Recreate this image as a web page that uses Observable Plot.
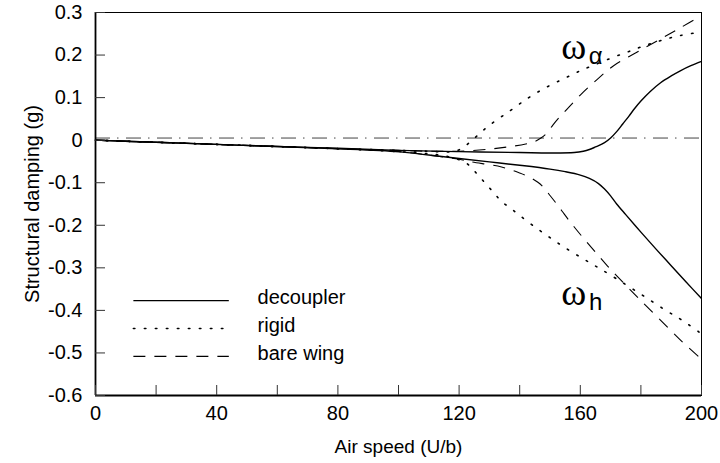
<!DOCTYPE html>
<html>
<head>
<meta charset="utf-8">
<script src="https://cdn.jsdelivr.net/npm/d3@7"></script>
<script src="https://cdn.jsdelivr.net/npm/@observablehq/plot@0.6"></script>
<style>
  body { margin: 0; background: #fff; }
  #chart svg { display: block; }
</style>
</head>
<body>
<div id="chart"></div>
<script>
// ---- tick values / labels ----
const xDomain = [0, 200];
const yDomain = [-0.6, 0.3];
const xMinorTicks = [0, 20, 40, 60, 80, 100, 120, 140, 160, 180, 200];
const xLabelTicks = [0, 40, 80, 120, 160, 200];
const yTicks = [-0.6, -0.5, -0.4, -0.3, -0.2, -0.1, 0, 0.1, 0.2, 0.3];
const xTitle = "Air speed (U/b)";
const yTitle = "Structural damping (g)";
const referenceLevel = 0.005;

// ---- series ----
const seriesNames = ["decoupler", "rigid", "bare wing"];

// decoupler
const decouplerAlphaX = [0, 20, 40, 60, 80, 100, 120, 140, 150, 158, 161, 163, 165, 168, 170, 172, 174, 176, 178, 180, 183, 186.5, 190, 193, 196.5, 200];
const decouplerAlphaY = [0, -0.005, -0.010, -0.015, -0.019, -0.024, -0.027, -0.029, -0.030, -0.029, -0.026, -0.022, -0.016, -0.006, 0.005, 0.020, 0.038, 0.056, 0.075, 0.092, 0.114, 0.135, 0.151, 0.163, 0.175, 0.185];
const decouplerHX = [0, 20, 40, 60, 80, 100, 110, 120, 130, 140, 150, 155, 160, 163, 166, 168, 170, 172, 175, 180, 185, 190, 195, 200];
const decouplerHY = [0, -0.005, -0.010, -0.015, -0.020, -0.027, -0.035, -0.043, -0.051, -0.059, -0.068, -0.074, -0.082, -0.090, -0.102, -0.115, -0.131, -0.150, -0.175, -0.216, -0.256, -0.295, -0.334, -0.372];

// rigid
const rigidAlphaX = [0, 20, 40, 60, 80, 100, 110, 118, 121, 124, 127, 130, 137, 143, 149, 155, 160, 165, 171, 177, 182, 188, 193, 200];
const rigidAlphaY = [0, -0.005, -0.010, -0.015, -0.020, -0.024, -0.026, -0.027, -0.019, -0.002, 0.017, 0.035, 0.070, 0.100, 0.125, 0.146, 0.163, 0.178, 0.195, 0.211, 0.224, 0.237, 0.246, 0.254];
const rigidHX = [0, 20, 40, 60, 80, 100, 110, 116, 120, 122, 124, 126, 128, 130, 132, 134, 137, 140, 145, 150, 155, 161, 166, 172, 180, 188, 194, 200];
const rigidHY = [0, -0.005, -0.010, -0.015, -0.020, -0.027, -0.032, -0.038, -0.046, -0.052, -0.064, -0.080, -0.096, -0.112, -0.128, -0.144, -0.160, -0.177, -0.204, -0.229, -0.253, -0.279, -0.300, -0.326, -0.362, -0.399, -0.425, -0.455];

// bare wing
const bareAlphaX = [0, 20, 40, 60, 80, 100, 110, 120, 130, 137, 142, 145, 147, 149, 151, 153, 155, 160, 165.6, 171, 178.8, 186.5, 193, 200];
const bareAlphaY = [0, -0.005, -0.010, -0.015, -0.020, -0.024, -0.026, -0.026, -0.021, -0.015, -0.009, -0.003, 0.005, 0.017, 0.036, 0.053, 0.068, 0.106, 0.143, 0.175, 0.207, 0.238, 0.264, 0.293];
const bareHX = [0, 20, 40, 60, 80, 100, 110, 120, 124, 134, 140, 143, 146, 148, 150, 152, 154, 156, 158, 161, 165, 169, 173, 180, 189, 194, 200];
const bareHY = [0, -0.005, -0.010, -0.015, -0.020, -0.027, -0.035, -0.045, -0.051, -0.063, -0.077, -0.086, -0.099, -0.112, -0.130, -0.148, -0.167, -0.186, -0.204, -0.230, -0.263, -0.296, -0.326, -0.377, -0.441, -0.476, -0.515];

// annotations (mode labels: ω with subscript)
const modeSymbols = ["ω", "ω"];
const modeSubscripts = ["α", "h"];
const modeX = [157.8, 157.8];
const modeY = [0.220, -0.358];

// ---- styles ----
const styles = {
  "decoupler": {dash: null, width: 1.4},
  "rigid": {dash: "1.5,9.5", width: 1.6},
  "bare wing": {dash: "12,9", width: 1.1}
};
const legendLayout = {x1: 12.5, x2: 44, textX: 53.5, y0: -0.377, step: -0.0655};

// ---- build tables ----
function rows(series, branch, xs, ys) {
  return xs.map((x, i) => ({series, branch, x, y: ys[i]}));
}
const data = [
  ...rows("decoupler", "alpha", decouplerAlphaX, decouplerAlphaY),
  ...rows("decoupler", "h", decouplerHX, decouplerHY),
  ...rows("rigid", "alpha", rigidAlphaX, rigidAlphaY),
  ...rows("rigid", "h", rigidHX, rigidHY),
  ...rows("bare wing", "alpha", bareAlphaX, bareAlphaY),
  ...rows("bare wing", "h", bareHX, bareHY)
];
const legendRows = seriesNames.map((name, i) => ({
  name,
  x1: legendLayout.x1, x2: legendLayout.x2, tx: legendLayout.textX,
  y: legendLayout.y0 + i * legendLayout.step
}));
const modeRows = modeSymbols.map((s, i) => ({text: s, sub: modeSubscripts[i], x: modeX[i], y: modeY[i]}));

const font = "'Liberation Sans', Arial, Helvetica, sans-serif";

const seriesMarks = seriesNames.flatMap((name) => {
  const s = styles[name];
  return [
    Plot.line(data.filter(d => d.series === name), {
      x: "x", y: "y", z: "branch", curve: "catmull-rom",
      stroke: "black", strokeWidth: s.width, strokeDasharray: s.dash,
      strokeLinecap: name === "rigid" ? "round" : "butt"
    }),
    Plot.link(legendRows.filter(d => d.name === name), {
      x1: "x1", x2: "x2", y1: "y", y2: "y",
      stroke: "black", strokeWidth: s.width, strokeDasharray: s.dash,
      strokeLinecap: name === "rigid" ? "round" : "butt"
    })
  ];
});

const chart = Plot.plot({
  width: 720,
  height: 463,
  marginLeft: 95,
  marginRight: 19,
  marginTop: 12,
  marginBottom: 68,
  x: {domain: xDomain},
  y: {domain: yDomain},
  style: {fontFamily: font, color: "black", background: "white", overflow: "visible"},
  marks: [
    Plot.ruleY([referenceLevel], {stroke: "#444", strokeWidth: 1, strokeDasharray: "15,7,1.5,7.5"}),
    ...seriesMarks,
    Plot.text(legendRows, {x: "tx", y: "y", text: "name", textAnchor: "start", fontSize: 20, dy: -3}),
    Plot.text(modeRows, {x: "x", y: "y", text: "text", fontSize: 38, ariaLabel: "omega",
      fontFamily: "'Liberation Serif', 'DejaVu Serif', serif"}),
    Plot.text(modeRows, {x: "x", y: "y", text: "sub", fontSize: 24, dx: 22, dy: 10}),
    Plot.frame({stroke: "black", strokeWidth: 1}),
    Plot.ruleX([xDomain[0]], {stroke: "black", strokeWidth: 1.8}),
    Plot.ruleY([yDomain[0]], {stroke: "black", strokeWidth: 1.8}),
    Plot.axisX({anchor: "bottom", ticks: xMinorTicks, tickSize: -10, tickFormat: () => "", stroke: "#333", label: null}),
    Plot.axisX({anchor: "bottom", ticks: xLabelTicks, tickSize: 0, tickPadding: 10, fontSize: 20, label: null}),
    Plot.axisY({anchor: "left", ticks: yTicks, tickSize: -10, tickPadding: 23, fontSize: 20, stroke: "#333",
      tickFormat: d => d === 0 ? "0" : d.toFixed(1), label: null}),
    Plot.text([xTitle], {frameAnchor: "bottom", dy: 51, lineAnchor: "middle", textAnchor: "middle", fontSize: 19}),
    Plot.text([yTitle], {frameAnchor: "left", dx: -63, rotate: -90, textAnchor: "middle", lineAnchor: "middle", fontSize: 20})
  ]
});
// widen the ω glyphs as in the original typesetting
d3.select(chart).selectAll('g[aria-label="omega"] text')
  .attr("textLength", 33).attr("lengthAdjust", "spacingAndGlyphs");
document.getElementById("chart").appendChild(chart);
</script>
</body>
</html>
